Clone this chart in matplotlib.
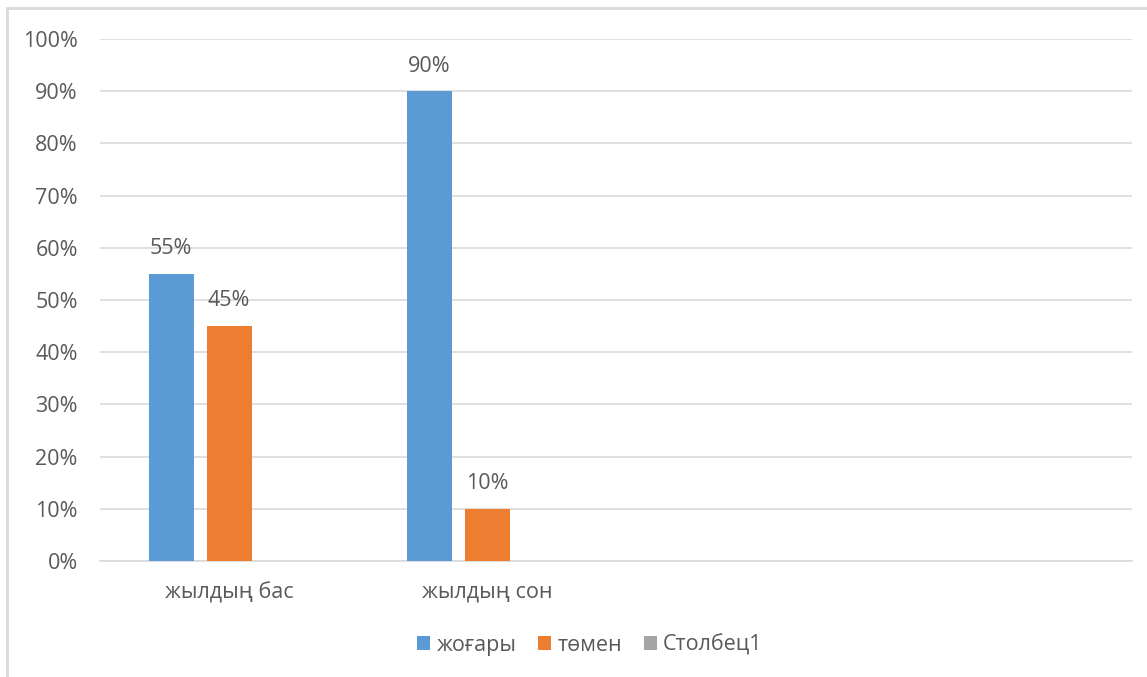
import numpy as np
import matplotlib
matplotlib.use("Agg")
import matplotlib.pyplot as plt
from matplotlib.patches import Rectangle

categories = ["жылдың бас", "жылдың сон", "", ""]
series_names = ["жоғары", "төмен", "Столбец1"]
high = [0.55, 0.90, np.nan, np.nan]
low = [0.45, 0.10, np.nan, np.nan]
col1 = [np.nan, np.nan, np.nan, np.nan]
colors = ["#5B9BD5", "#ED7D31", "#A5A5A5"]
yticks = [0, 0.1, 0.2, 0.3, 0.4, 0.5, 0.6, 0.7, 0.8, 0.9, 1.0]

plt.rcParams['font.family'] = ['Open Sans', 'DejaVu Sans']
text_color = "#595959"
fs = 15.5

fig = plt.figure(figsize=(11.47, 6.77), dpi=100)
ax = fig.add_axes([100/1147, 1-561/677, 1032/1147, (561-39)/677])

x = np.arange(len(categories))
bw = 45/258
step = 58/258
series = [high, low, col1]
for i, (vals, c, name) in enumerate(zip(series, colors, series_names)):
    pos = x + (i-1)*step
    ax.bar(pos, np.nan_to_num(vals), width=bw, color=c, label=name, zorder=3)
    for p, v in zip(pos, vals):
        if not np.isnan(v):
            ax.text(p, v + 0.028, f"{v*100:.0f}%", ha="center", va="bottom",
                    fontsize=fs, color=text_color)

ax.set_xlim(-0.5, len(categories)-0.5)
ax.set_ylim(0, 1.0)
ax.set_yticks(yticks)
ax.set_yticklabels([f"{t*100:.0f}%" for t in yticks], fontsize=fs, color=text_color)
ax.set_xticks(x)
ax.set_xticklabels(categories, fontsize=fs, color=text_color)
ax.tick_params(axis="both", length=0)
ax.tick_params(axis="y", pad=16)
ax.tick_params(axis="x", pad=15)
ax.grid(axis="y", color="#D9D9D9", linewidth=1.2, zorder=0)
for s in ["top", "right", "left"]:
    ax.spines[s].set_visible(False)
ax.spines["bottom"].set_color("#D9D9D9")
ax.spines["bottom"].set_linewidth(1.2)

leg = fig.legend(loc="center", bbox_to_anchor=(590/1147, 1-645/677), ncol=3,
                 frameon=False, fontsize=fs, handlelength=0.6, handleheight=0.6,
                 handletextpad=0.3, columnspacing=1.0)
for t in leg.get_texts():
    t.set_color(text_color)

fig.patches.append(Rectangle((7/1147, -0.1), 1.2, 1-8/677+0.1, transform=fig.transFigure,
                             fill=False, edgecolor="#D9D9D9", linewidth=2))

fig.savefig("out.png", dpi=100)
